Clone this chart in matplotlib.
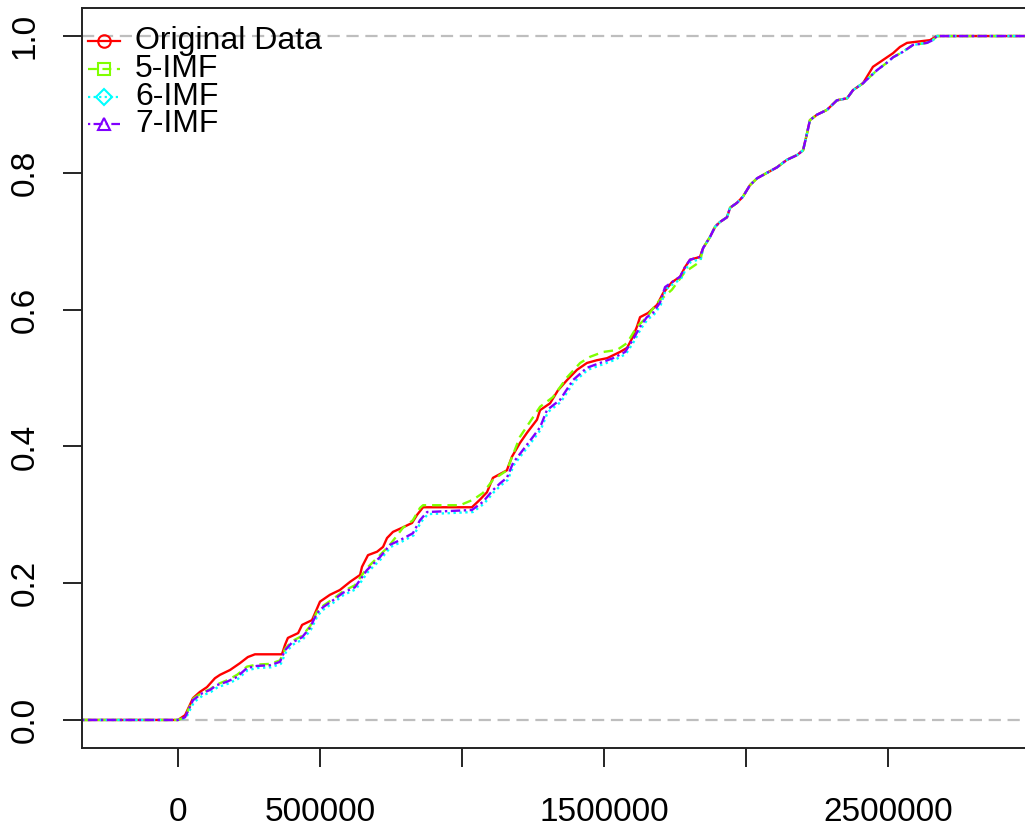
import matplotlib
matplotlib.use("Agg")
import matplotlib.pyplot as plt
import numpy as np

plt.rcParams['font.family'] = ['Liberation Sans', 'DejaVu Sans']

# ---- data (x in thousands, cumulative proportion) ----
orig_x = [0, 25, 53, 77, 102, 130, 148, 183, 218, 246, 271, 366, 377, 387, 423, 437, 472, 500, 535, 570,
          606, 641, 648, 669, 701, 722, 736, 757, 789, 824, 842, 863, 1035, 1063, 1088, 1109, 1158, 1176,
          1204, 1229, 1264, 1275, 1310, 1338, 1370, 1405, 1440, 1475, 1511, 1556, 1581, 1599, 1616, 1627,
          1655, 1687, 1708, 1739, 1768, 1785, 1803, 1838]
orig_y = [0, 0.007, 0.032, 0.041, 0.048, 0.061, 0.066, 0.073, 0.083, 0.092, 0.096, 0.096, 0.110, 0.120,
          0.127, 0.139, 0.146, 0.173, 0.183, 0.190, 0.202, 0.212, 0.224, 0.241, 0.246, 0.253, 0.266, 0.275,
          0.281, 0.288, 0.300, 0.311, 0.311, 0.322, 0.333, 0.354, 0.365, 0.385, 0.405, 0.420, 0.439, 0.453,
          0.463, 0.482, 0.497, 0.512, 0.522, 0.526, 0.529, 0.538, 0.544, 0.558, 0.575, 0.589, 0.595, 0.607,
          0.624, 0.640, 0.648, 0.662, 0.673, 0.677]

imf5_x = [0, 25, 53, 85, 113, 137, 173, 208, 243, 278, 324, 359, 377, 401, 437, 465, 489, 511, 546, 581,
          623, 665, 711, 746, 792, 827, 852, 863, 993, 1039, 1074, 1109, 1158, 1204, 1275, 1320, 1370, 1416,
          1451, 1496, 1546, 1581, 1616, 1651, 1687, 1739, 1785, 1838]
imf5_y = [0, 0.004, 0.031, 0.040, 0.045, 0.052, 0.058, 0.066, 0.078, 0.081, 0.082, 0.087, 0.104, 0.115,
          0.123, 0.137, 0.158, 0.167, 0.177, 0.188, 0.197, 0.222, 0.241, 0.256, 0.281, 0.292, 0.310, 0.314,
          0.314, 0.322, 0.332, 0.351, 0.365, 0.414, 0.458, 0.472, 0.501, 0.522, 0.531, 0.538, 0.541, 0.551,
          0.575, 0.589, 0.610, 0.629, 0.655, 0.670]

imf6_x = [0, 28, 56, 88, 116, 140, 176, 211, 246, 281, 327, 362, 380, 404, 440, 468, 492, 514, 549, 584,
          626, 668, 714, 749, 785, 830, 855, 880, 1038, 1077, 1112, 1137, 1161, 1183, 1218, 1253, 1278, 1302,
          1348, 1394, 1443, 1489, 1535, 1577, 1605, 1630, 1654, 1675, 1700, 1718, 1742, 1771, 1788, 1806, 1841]
imf6_y = [0, 0.003, 0.026, 0.036, 0.041, 0.048, 0.053, 0.060, 0.073, 0.076, 0.077, 0.082, 0.099, 0.110,
          0.118, 0.132, 0.153, 0.162, 0.172, 0.183, 0.191, 0.216, 0.235, 0.253, 0.260, 0.270, 0.289, 0.301,
          0.304, 0.316, 0.333, 0.343, 0.351, 0.373, 0.392, 0.411, 0.425, 0.450, 0.465, 0.494, 0.512, 0.519,
          0.526, 0.535, 0.553, 0.572, 0.586, 0.592, 0.607, 0.630, 0.637, 0.645, 0.659, 0.670, 0.674]

imf7_x = [0, 25, 53, 85, 113, 137, 173, 208, 243, 278, 324, 359, 377, 401, 437, 465, 489, 511, 546, 581,
          623, 665, 711, 746, 782, 827, 852, 877, 1035, 1074, 1109, 1134, 1158, 1180, 1215, 1250, 1275, 1299,
          1345, 1391, 1440, 1486, 1532, 1574, 1602, 1627, 1651, 1672, 1697, 1715, 1739, 1768, 1785, 1803, 1838]
imf7_y = [0, 0.004, 0.029, 0.039, 0.044, 0.051, 0.056, 0.063, 0.076, 0.079, 0.080, 0.085, 0.102, 0.113,
          0.121, 0.135, 0.156, 0.165, 0.175, 0.186, 0.194, 0.219, 0.238, 0.256, 0.263, 0.273, 0.292, 0.304,
          0.307, 0.319, 0.336, 0.346, 0.354, 0.376, 0.395, 0.414, 0.428, 0.453, 0.468, 0.497, 0.515, 0.522,
          0.529, 0.538, 0.556, 0.575, 0.589, 0.595, 0.610, 0.633, 0.640, 0.648, 0.662, 0.673, 0.677]

# shared upper section (all four nearly coincide)
common_x = [1849, 1873, 1891, 1908, 1933, 1944, 1968, 1989, 2014, 2039, 2074, 2109, 2144, 2180, 2201, 2215,
            2225, 2250, 2285, 2320, 2356, 2377, 2412]
common_y = [0.690, 0.706, 0.721, 0.728, 0.735, 0.749, 0.756, 0.765, 0.782, 0.792, 0.800, 0.808, 0.819,
            0.826, 0.833, 0.858, 0.877, 0.885, 0.892, 0.906, 0.909, 0.921, 0.931]

orig_top_x = [2447, 2518, 2542, 2567, 2648, 2672]
orig_top_y = [0.955, 0.975, 0.984, 0.990, 0.994, 1.0]
imf_top_x = [2461, 2496, 2518, 2553, 2588, 2637, 2658, 2672]
imf_top_y = [0.950, 0.961, 0.969, 0.977, 0.987, 0.990, 0.994, 1.0]

labels = ["Original Data", "5-IMF", "6-IMF", "7-IMF"]
colors = ["#FF0000", "#80FF00", "#00FFFF", "#8000FF"]
markers = ["o", "s", "D", "^"]
styles = ["-", (0, (4, 2.5)), (0, (1, 1.5)), (0, (1, 1.5, 4, 1.5))]

series = [
    (orig_x + common_x + orig_top_x, orig_y + common_y + orig_top_y),
    (imf5_x + common_x + imf_top_x, imf5_y + common_y + imf_top_y),
    (imf6_x + common_x + imf_top_x, imf6_y + common_y + imf_top_y),
    (imf7_x + common_x + imf_top_x, imf7_y + common_y + imf_top_y),
]

XMIN, XMAX = -338000, 3000000

fig = plt.figure(figsize=(10.25, 8.35), dpi=100)
ax = fig.add_axes([82 / 1025, 87 / 835, 948 / 1025, 740 / 835])

ax.axhline(0, color="#BEBEBE", lw=1.6, dashes=(5.5, 3.0), zorder=1)
ax.axhline(1, color="#BEBEBE", lw=1.6, dashes=(5.5, 3.0), zorder=1)

for (xs, ys), c, ls in zip(series, colors, styles):
    x = np.array([XMIN / 1000] + xs + [XMAX / 1000]) * 1000
    y = np.array([0] + ys + [1.0])
    ax.plot(x, y, color=c, lw=1.7, linestyle=ls, zorder=2)

ax.set_xlim(XMIN, XMAX)
ax.set_ylim(-0.041, 1.041)

ax.set_xticks([0, 500000, 1000000, 1500000, 2000000, 2500000])
ax.set_xticklabels(["0", "500000", "", "1500000", "", "2500000"])
ax.set_yticks([0, 0.2, 0.4, 0.6, 0.8, 1.0])
ax.set_yticklabels(["0.0", "0.2", "0.4", "0.6", "0.8", "1.0"], rotation=90, va="center")

ax.tick_params(axis="both", direction="out", length=14, width=1.2, labelsize=24, colors="black")
ax.tick_params(axis="x", pad=21)
ax.tick_params(axis="y", pad=16)
for s in ax.spines.values():
    s.set_linewidth(1.4)
    s.set_color("#222222")

# legend (drawn manually to match the tight R legend)
rows = [0.955, 0.918, 0.880, 0.843]
for lab, c, m, ls, ry in zip(labels, colors, markers, styles, rows):
    ax.plot([0.006, 0.040], [ry, ry], transform=ax.transAxes, color=c, lw=1.6, linestyle=ls, zorder=3)
    ax.plot([0.023], [ry], transform=ax.transAxes, color=c, marker=m, markersize=9 if m != "D" else 8,
            markerfacecolor="none", markeredgewidth=1.5, linestyle="none", zorder=3)
    ax.text(0.056, ry, lab, transform=ax.transAxes, fontsize=23, va="center", ha="left", zorder=3)

fig.savefig("out.png", dpi=100)
